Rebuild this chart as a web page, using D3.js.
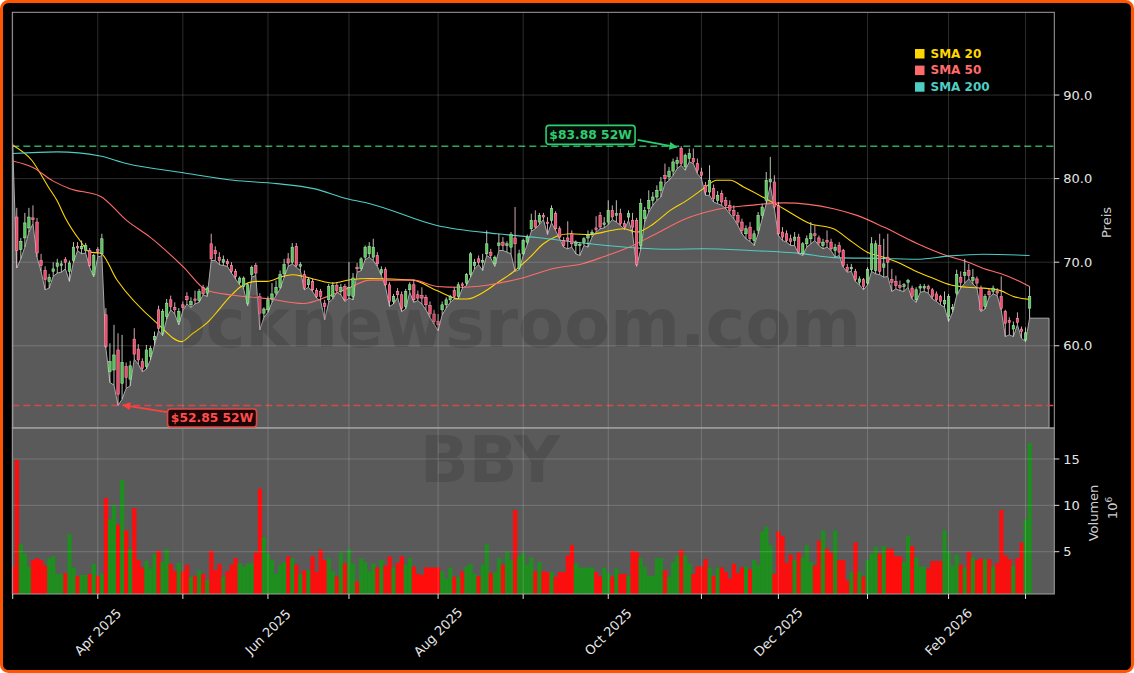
<!DOCTYPE html>
<html><head><meta charset="utf-8">
<script src="https://cdn.jsdelivr.net/npm/d3@7/dist/d3.min.js"></script>
<style>html,body{margin:0;padding:0;background:#fff;}svg{display:block;font-family:"DejaVu Sans",sans-serif;}</style>
</head><body>
<svg id="chart" width="1134" height="673"></svg>
<script>
// ---------------- DATA ----------------
const ticker = "BBY";
const watermarkText = "stocknewsroom.com";
const tickIndex = [0, 21, 42, 63, 83, 105, 126, 147, 170, 189, 211, 231, 250];
const tickLabels = ["", "Apr 2025", "", "Jun 2025", "", "Aug 2025", "", "Oct 2025", "", "Dec 2025", "", "Feb 2026", ""];
const priceTicks = [60, 70, 80, 90];
const volumeTicks = [5, 10, 15];

const open = [84.0,75.4,71.5,72.9,74.1,75.3,74.8,70.2,69.0,67.7,68.9,69.5,69.6,70.3,68.9,70.2,71.9,71.6,71.4,71.4,68.5,71.5,71.0,63.7,56.9,57.1,59.5,55.5,57.5,56.0,
60.8,59.6,58.1,57.5,58.7,60.7,64.3,61.5,63.5,65.5,64.6,62.9,64.9,65.9,64.9,65.6,65.4,67.0,66.3,72.2,71.4,70.6,70.0,70.1,69.6,68.9,67.6,67.1,65.1,68.5,
69.6,65.9,63.9,64.3,65.6,66.3,67.0,68.6,70.4,70.0,71.9,69.5,68.5,67.3,67.7,66.6,66.5,65.1,65.5,65.9,67.2,66.5,67.1,66.0,65.9,69.4,69.2,70.6,71.0,70.6,
70.8,68.7,69.1,67.3,65.3,66.5,66.1,64.7,66.7,67.3,66.1,66.0,65.8,64.8,63.8,62.9,64.3,64.9,65.5,66.6,65.9,67.4,67.5,68.5,69.6,70.4,70.0,71.0,71.2,69.8,
72.0,72.4,72.0,71.8,72.9,69.3,71.0,72.4,74.0,75.0,74.8,75.6,74.8,75.0,75.8,74.0,72.6,72.9,73.4,72.0,72.0,72.4,72.9,73.4,74.1,75.6,74.5,74.8,76.2,75.6,
75.8,74.6,75.4,75.0,75.0,72.0,75.2,76.4,77.4,77.8,78.6,80.4,80.2,80.9,81.8,83.6,81.4,82.4,82.4,81.8,80.8,79.2,78.4,78.8,77.4,78.2,77.4,76.8,76.2,75.6,
74.8,73.4,74.2,72.6,73.8,75.6,77.4,79.6,79.6,76.8,73.6,73.4,72.8,72.6,73.0,71.0,72.2,72.8,73.4,72.9,72.0,72.6,72.4,71.4,72.0,71.4,69.4,69.2,68.9,67.6,
67.9,67.5,69.1,69.0,72.0,69.4,70.6,67.9,67.7,67.2,67.1,67.6,66.9,65.5,66.9,66.9,67.1,66.7,66.2,65.9,65.0,63.5,64.4,66.3,68.2,68.4,69.0,67.8,68.0,66.9,
64.7,66.5,66.5,66.5,65.9,64.1,63.0,62.0,63.3,62.0,60.7,64.5];
const high = [84.2,76.5,72.9,75.9,76.5,76.8,75.3,71.0,69.5,68.6,70.0,70.4,70.2,70.6,70.2,72.4,72.4,72.6,72.3,71.7,71.0,71.8,73.4,64.5,60.3,62.5,61.5,61.3,58.0,58.2,
62.1,60.2,58.5,60.1,60.0,61.7,64.8,64.4,65.6,66.0,65.2,64.5,65.3,66.4,65.8,66.6,66.8,67.3,67.1,73.4,71.9,71.2,70.8,70.4,70.0,69.2,68.3,68.3,67.5,69.6,
69.9,66.3,64.6,65.9,67.5,67.8,69.0,70.4,71.1,72.3,72.3,70.0,69.0,68.2,68.0,66.9,66.8,65.5,67.4,67.6,67.6,67.4,67.4,70.0,68.7,69.9,70.6,72.0,72.4,72.8,
71.2,69.5,69.4,67.6,66.2,66.9,66.5,66.8,67.6,67.9,66.6,67.0,66.1,65.3,64.3,63.8,65.3,65.8,66.1,67.0,67.6,67.6,68.7,71.2,70.4,70.8,71.0,73.8,71.6,70.8,
73.4,73.0,72.5,73.6,76.6,71.5,72.8,73.3,75.8,76.2,75.9,75.9,75.4,76.8,76.1,74.3,73.0,74.9,73.8,72.6,72.4,73.0,73.8,73.9,75.5,76.0,75.4,77.4,76.8,77.4,
76.4,75.0,76.2,75.9,75.3,77.6,76.6,78.6,78.4,79.2,80.2,81.8,81.4,82.4,82.6,83.88,83.0,83.6,83.6,82.4,81.3,79.6,81.6,79.3,78.5,78.6,77.8,77.4,76.8,76.0,
75.2,74.4,74.8,73.8,76.0,77.0,80.8,82.6,80.4,77.2,74.2,73.8,73.3,73.6,73.4,72.4,73.2,74.8,74.4,73.2,72.8,73.8,72.8,72.2,72.4,71.6,69.8,69.8,69.2,68.3,
68.1,69.4,73.0,72.6,73.4,72.8,73.4,69.2,68.4,67.8,67.5,68.0,67.2,67.0,67.4,67.4,67.3,66.9,66.5,66.1,66.5,66.2,65.0,69.1,68.9,70.4,69.8,69.2,68.3,67.2,
66.2,66.8,67.2,66.9,68.3,64.3,63.4,62.9,64.0,62.3,62.2,67.1];
const low = [83.9,69.3,70.4,71.8,73.6,74.6,70.6,68.9,66.7,66.9,68.3,68.7,68.8,69.2,67.7,70.0,71.4,71.0,71.1,69.4,68.25,70.6,70.8,59.7,55.6,55.3,52.85,53.6,54.9,55.2,
58.4,57.8,56.9,57.2,58.3,60.1,61.8,61.2,63.2,64.3,63.8,62.5,64.2,65.0,64.6,65.0,65.2,66.1,65.9,70.2,70.2,69.7,69.6,69.5,68.7,68.0,67.3,66.8,64.8,68.2,
68.4,61.9,63.4,64.0,65.2,66.0,66.8,68.2,69.5,69.8,69.4,69.0,66.7,67.0,66.5,65.7,65.4,63.1,65.2,65.6,66.4,66.1,65.3,65.7,65.5,68.8,69.0,70.3,70.6,70.2,
69.5,68.4,67.1,64.7,65.0,65.8,64.1,64.4,66.4,65.2,65.4,65.0,64.3,63.4,62.6,61.8,63.7,64.5,65.2,65.6,65.6,66.9,67.2,68.2,69.2,69.7,69.0,70.8,70.5,69.5,
71.4,71.4,71.2,71.0,68.9,69.1,70.8,72.1,73.7,74.0,74.5,75.1,73.3,74.7,73.8,72.8,71.8,71.6,71.8,71.0,70.8,72.0,71.8,73.0,73.6,74.0,74.1,74.5,75.1,74.8,
74.4,73.9,75.0,73.4,69.5,71.5,74.8,76.0,76.8,77.4,77.8,79.4,79.8,80.4,81.2,81.6,81.0,82.0,81.8,80.6,80.0,78.0,78.0,77.2,77.0,76.8,76.4,75.8,75.2,74.4,
73.4,72.8,72.5,72.0,73.4,75.2,77.0,79.2,76.4,73.2,72.6,72.4,72.0,72.0,71.0,70.8,71.8,72.2,72.6,72.0,71.6,71.8,71.4,70.6,70.8,69.4,68.8,68.9,67.7,67.3,
66.7,67.3,68.9,68.6,68.5,68.2,68.3,66.5,66.8,66.6,66.5,67.0,65.6,65.2,66.4,66.5,66.3,65.6,65.3,64.9,64.6,62.9,64.0,66.0,66.9,67.5,68.0,67.4,66.9,64.1,
64.4,65.8,66.2,66.0,64.3,61.1,61.3,61.1,62.5,60.9,60.5,63.3];
const close = [83.95,71.4,72.5,74.7,75.4,75.1,71.1,69.6,67.9,68.2,69.2,69.9,69.8,70.0,69.9,71.8,71.7,71.9,72.0,69.6,70.8,71.3,72.8,59.9,58.1,58.9,54.2,58.0,56.2,57.6,
59.0,58.3,57.3,59.5,59.7,61.1,62.1,64.1,65.1,64.7,64.3,64.1,64.6,65.5,65.3,65.4,66.5,66.2,66.9,70.4,71.0,70.2,70.3,69.8,68.9,68.3,68.1,68.1,67.3,69.4,
68.7,63.9,64.4,65.5,66.2,67.0,68.5,69.7,69.9,71.8,69.6,69.7,66.9,67.9,66.7,65.9,65.9,64.7,67.1,67.2,66.6,67.0,65.5,67.0,68.1,69.2,70.4,71.8,71.9,71.8,
69.8,69.1,67.3,65.3,65.9,66.1,64.5,66.5,67.3,65.5,65.7,65.7,64.9,63.8,62.9,62.5,64.9,65.5,65.9,65.9,67.3,67.2,68.5,71.0,70.0,70.0,70.2,72.2,70.8,70.6,
72.3,72.0,72.2,73.3,72.2,71.0,72.6,73.0,75.0,74.2,75.6,75.4,74.6,76.4,74.0,73.0,72.0,72.6,72.2,72.4,72.1,72.8,73.2,73.6,73.9,74.2,74.7,76.2,75.4,75.8,
74.6,74.2,75.8,74.2,69.7,77.0,76.2,77.4,77.8,78.6,79.6,80.0,80.9,82.0,82.2,81.8,82.8,83.0,82.0,81.0,80.4,78.4,79.8,77.6,78.0,77.2,76.8,76.2,75.6,74.8,
73.8,74.0,72.8,73.4,75.6,76.6,79.8,79.9,76.6,73.4,73.0,72.6,72.5,73.0,71.2,72.2,72.8,73.4,73.2,72.3,72.4,72.4,71.6,71.8,71.2,69.6,69.0,69.4,67.9,68.0,
67.1,69.1,72.2,72.2,68.9,69.8,70.0,67.6,67.2,67.0,67.3,67.8,65.9,66.7,67.1,67.1,66.8,65.9,65.5,65.3,65.4,65.9,64.6,68.5,67.6,68.8,68.4,68.2,67.5,64.3,
65.9,66.1,66.9,66.3,64.5,62.7,62.8,62.4,62.8,61.7,61.55,65.9];
const volume = [3.4,14.9,5.8,4.8,3.4,4.1,4.3,4.1,3.5,4.3,4.5,2.6,2.6,2.7,6.9,3.3,2.4,2.5,2.5,2.6,3.7,2.4,2.6,10.8,8.5,10.0,7.9,12.7,7.3,5.3,
9.7,4.1,3.3,4.0,3.2,4.75,5.1,3.9,5.3,3.7,2.9,3.8,2.9,3.6,2.3,2.4,3.0,2.6,1.95,5.1,3.0,3.7,2.3,2.9,3.6,4.3,3.75,3.4,3.75,3.75,
4.9,11.8,6.6,4.8,4.1,2.6,3.6,3.9,4.5,4.3,3.6,2.6,3.0,3.0,4.5,2.8,5.2,4.1,4.3,2.9,2.3,4.9,3.75,5.3,3.75,1.8,4.3,3.9,2.9,3.75,
3.3,4.1,3.5,4.5,3.3,3.8,4.5,3.6,4.3,3.4,2.6,2.5,3.3,3.3,3.3,3.3,2.9,2.1,3.3,2.3,2.3,2.9,3.4,3.7,2.6,2.4,3.6,5.8,2.7,2.8,
4.3,3.6,5.0,4.1,9.5,4.5,4.9,3.6,4.4,2.9,3.9,2.9,2.8,2.8,2.3,2.8,2.8,4.6,5.7,3.75,3.3,3.3,3.3,3.3,2.8,2.3,3.3,2.7,2.3,3.2,
2.6,2.6,2.4,5.1,5.0,4.3,3.4,2.4,2.4,4.3,4.3,3.0,2.3,3.9,4.6,5.2,4.6,3.75,2.6,3.4,3.4,4.2,3.3,2.4,3.3,3.3,2.8,2.1,3.7,2.7,
3.3,3.4,3.1,4.1,3.6,7.2,7.7,5.7,2.6,7.2,6.7,3.8,4.7,4.1,4.9,4.4,5.7,3.9,3.5,6.2,7.3,5.3,4.9,7.3,4.1,4.1,1.9,2.8,6.0,2.9,
2.3,4.1,4.8,5.5,4.8,5.6,5.3,5.3,4.5,4.5,3.9,6.7,5.6,4.4,3.4,3.4,3.2,4.0,4.0,4.0,7.3,5.0,3.5,4.7,3.6,3.3,5.0,4.4,4.1,4.3,
4.2,4.2,3.4,3.8,9.5,4.6,4.2,3.5,4.3,6.0,8.5,16.7];

// moving averages: [trading-day index, value]
const sma20Index = [0,4.7,8.8,10.9,13,16.6,19,21.6,25.7,35.6,41.7,44.5,47.9,53.7,56.1,60.2,62.7,66.7,69.2,71.7,75,79.1,83.3,88.2,98.8,104.7,110.4,112.1,117,119.5,123.6,127.7,131,134.3,137.6,142.5,145.8,150.8,154.1,158.2,162.3,166.4,170.5,173.8,177.1,180.4,182,190.3,196.9,202.6,206.7,210.9,215,219.1,223.2,227.3,231.4,235.5,239.6,243.8,247,251];
const sma20Value = [84.0,82.2,79.0,77.4,75.3,72.6,71.2,71.1,67.9,62.7,60.5,61.5,62.7,65.9,67.0,67.7,67.7,68.3,68.5,68.3,67.9,67.5,67.9,68.05,67.85,66.6,65.6,65.6,66.65,67.5,68.85,70.6,72.2,73.1,73.4,73.3,73.6,74.0,73.6,74.6,76.2,77.4,78.8,79.8,79.8,79.0,78.6,76.4,74.6,74.0,72.6,71.2,70.6,69.85,68.85,68.05,67.3,67.0,66.9,66.6,65.9,65.55];
const sma50Index = [0,5.1,10,14.1,21.6,28.1,33.9,42.1,47.9,54.5,62.7,71.8,77.5,83.3,88.2,98.9,104.7,110.4,117,125.3,133.5,140.9,145.8,152.4,158.2,166.4,174.6,182,190.3,202.6,208.4,215,223.2,231.4,235.5,239.6,243.8,247.9,251];
const sma50Value = [82.1,81.3,79.7,78.8,77.9,75.0,73.0,69.45,66.65,66.05,65.65,65.05,65.85,67.0,67.85,67.85,67.1,67.0,67.25,68.05,69.25,69.85,70.65,71.85,73.25,75.25,76.4,76.8,77.1,76.4,75.6,74.2,72.25,70.65,70.05,69.25,68.65,67.85,67.1];
const sma200Index = [0,10.9,21.6,28.1,42.1,54.5,65.2,74.3,82.5,88.2,104.7,119.5,129.4,141.7,154.1,162.3,170.5,182,194.4,202.6,215,223.2,231.4,239.6,251];
const sma200Value = [83.0,83.2,82.7,81.8,80.7,79.8,79.4,78.8,77.6,77.0,74.4,73.4,72.95,72.25,71.7,71.55,71.6,71.4,71.05,70.55,70.45,70.35,70.75,70.95,70.8];

const smaNames = ["SMA 20", "SMA 50", "SMA 200"];
const high52 = 83.88, high52Index = 165, high52Label = "$83.88 52W";
const low52 = 52.85, low52Index = 26, low52Label = "$52.85 52W";

// ---------------- LAYOUT ----------------
const W = 1134, H = 673;
const L = 12.3, R = 1054.3, PT = 12.3, PB = 428, VB = 594;
const smaColors = ["#ffd700", "#ff6b6b", "#4ecdc4"];
const upBody = "#5cc45c", upEdge = "#b8f0b8", upWick = "#c9d9c9";
const dnBody = "#ee4a6e", dnEdge = "#ffa8b8", dnWick = "#e8b8c6";
const volUp = "#1e8e1e", volDn = "#ff0d0d";
const fillGray = "#5a5a5a";
const textCol = "#e6e6e6";

const svg = d3.select("#chart");
const x = d3.scaleLinear().domain([-0.1, 257.1]).range([L, R]);
const y = d3.scaleLinear().domain([50.16, 99.9]).range([PB, PT]);
const yv = d3.scaleLinear().domain([0.44, 18.34]).range([VB, PB]);
const step = x(1) - x(0);
const n = close.length;
const idx = d3.range(n);

// frame
svg.append("rect").attr("x", 1.5).attr("y", 1.5).attr("width", W - 3).attr("height", H - 3)
  .attr("rx", 7).attr("fill", "#000").attr("stroke", "#ff5500").attr("stroke-width", 3);

const defs = svg.append("defs");
defs.append("clipPath").attr("id", "cp").append("rect").attr("x", L).attr("y", PT).attr("width", R - L).attr("height", PB - PT);
defs.append("clipPath").attr("id", "cv").append("rect").attr("x", L).attr("y", PB).attr("width", R - L).attr("height", VB - PB);
defs.append("clipPath").attr("id", "cw").append("rect").attr("x", 183).attr("y", PT).attr("width", R - 183).attr("height", PB - PT);
[["ah-g", "#2ecc71"], ["ah-r", "#ff4040"]].forEach(([id, c]) => {
  defs.append("marker").attr("id", id).attr("viewBox", "0 0 10 10").attr("refX", 9).attr("refY", 5)
    .attr("markerWidth", 9).attr("markerHeight", 8).attr("markerUnits", "userSpaceOnUse").attr("orient", "auto")
    .append("path").attr("d", "M0,0 L10,5 L0,10 z").attr("fill", c);
});

// volume panel background
svg.append("rect").attr("x", L).attr("y", PB).attr("width", R - L).attr("height", VB - PB).attr("fill", fillGray);

const gP = svg.append("g").attr("clip-path", "url(#cp)");
const gV = svg.append("g").attr("clip-path", "url(#cv)");

// price fill (lows), extended flat to the right
const fillEnd = 255.8;
const fillPts = idx.map(i => [x(i), y(low[i])]).concat([[x(fillEnd), y(low[n - 1])]]);
const poly = [[x(0), PB]].concat(fillPts).concat([[x(fillEnd), PB]]);
gP.append("path").attr("d", "M" + poly.map(p => p.join(",")).join("L") + "Z")
  .attr("fill", fillGray).attr("stroke", "#a8a8a8").attr("stroke-width", 1);

// watermarks
svg.append("g").attr("clip-path", "url(#cw)").append("text").attr("x", 861).attr("y", 347).attr("text-anchor", "end")
  .attr("font-size", 67).attr("font-weight", "bold").attr("fill", "#000").attr("fill-opacity", 0.13).text(watermarkText);
gV.append("text").attr("x", 420).attr("y", 482)
  .attr("font-size", 64).attr("font-weight", "bold").attr("fill", "#000").attr("fill-opacity", 0.12).text(ticker);

// grid
const grid = svg.append("g").attr("stroke", "#fff").attr("stroke-opacity", 0.22).attr("stroke-width", 0.8);
tickIndex.forEach(t => {
  grid.append("line").attr("x1", x(t)).attr("x2", x(t)).attr("y1", PT).attr("y2", VB);
});
priceTicks.forEach(v => grid.append("line").attr("x1", L).attr("x2", R).attr("y1", y(v)).attr("y2", y(v)));
volumeTicks.forEach(v => grid.append("line").attr("x1", L).attr("x2", R).attr("y1", yv(v)).attr("y2", yv(v)));

// 52w lines
gP.append("line").attr("x1", L).attr("x2", R).attr("y1", y(high52)).attr("y2", y(high52))
  .attr("stroke", "#2ea860").attr("stroke-width", 1.6).attr("stroke-dasharray", "7,4");
gP.append("line").attr("x1", L).attr("x2", R).attr("y1", y(low52)).attr("y2", y(low52))
  .attr("stroke", "#d94848").attr("stroke-width", 1.6).attr("stroke-dasharray", "7,4");

// SMA lines
const line = d3.line().x(d => x(d[0])).y(d => y(d[1])).curve(d3.curveMonotoneX);
[[sma20Index, sma20Value], [sma50Index, sma50Value], [sma200Index, sma200Value]].forEach(([ix, vals], k) => {
  gP.append("path").datum(ix.map((t, j) => [t, vals[j]])).attr("d", line)
    .attr("fill", "none").attr("stroke", smaColors[k]).attr("stroke-width", 1.1);
});

// candles
const bw = step * 0.62;
const cg = gP.append("g");
idx.forEach(i => {
  const up = close[i] >= open[i];
  cg.append("line").attr("x1", x(i)).attr("x2", x(i)).attr("y1", y(high[i])).attr("y2", y(low[i]))
    .attr("stroke", up ? upWick : dnWick).attr("stroke-width", 0.9);
  const top = y(Math.max(open[i], close[i])), bot = y(Math.min(open[i], close[i]));
  cg.append("rect").attr("x", x(i) - bw / 2).attr("y", top).attr("width", bw).attr("height", Math.max(1, bot - top))
    .attr("fill", up ? upBody : dnBody).attr("stroke", up ? upEdge : dnEdge).attr("stroke-width", 0.5);
});

// volume bars
idx.forEach(i => {
  const up = close[i] >= open[i];
  gV.append("rect").attr("x", x(i) - step / 2).attr("y", yv(volume[i])).attr("width", step + 0.2)
    .attr("height", VB - yv(volume[i])).attr("fill", up ? volUp : volDn);
});

// spines
const sp = svg.append("g").attr("stroke", "#a0a0a0").attr("stroke-width", 1).attr("fill", "none");
sp.append("rect").attr("x", L).attr("y", PT).attr("width", R - L).attr("height", PB - PT);
sp.append("rect").attr("x", L).attr("y", PB).attr("width", R - L).attr("height", VB - PB);

// right axes
const ax = svg.append("g").attr("fill", textCol).attr("font-size", 13);
priceTicks.forEach(v => {
  ax.append("line").attr("x1", R).attr("x2", R + 5).attr("y1", y(v)).attr("y2", y(v)).attr("stroke", "#ddd");
  ax.append("text").attr("x", R + 9).attr("y", y(v)).attr("dy", "0.36em").text(v.toFixed(1));
});
volumeTicks.forEach(v => {
  ax.append("line").attr("x1", R).attr("x2", R + 5).attr("y1", yv(v)).attr("y2", yv(v)).attr("stroke", "#ddd");
  ax.append("text").attr("x", R + 9).attr("y", yv(v)).attr("dy", "0.36em").text(v);
});
ax.append("text").attr("transform", "translate(1111,222.5) rotate(-90)").attr("text-anchor", "middle")
  .attr("fill", "#cfcfcf").text("Preis");
ax.append("text").attr("transform", "translate(1098,513) rotate(-90)").attr("text-anchor", "middle")
  .attr("fill", "#cfcfcf").text("Volumen");
const off = ax.append("text").attr("transform", "translate(1117,508) rotate(-90)").attr("text-anchor", "middle").attr("fill", "#cfcfcf");
off.append("tspan").text("10");
off.append("tspan").attr("dy", -5).attr("font-size", 9).text("6");

// bottom axis
tickIndex.forEach((t, k) => {
  ax.append("line").attr("x1", x(t)).attr("x2", x(t)).attr("y1", VB).attr("y2", VB + 5).attr("stroke", "#ddd");
  if (tickLabels[k]) {
    ax.append("text").attr("transform", `translate(${x(t)},${632}) rotate(-45)`).attr("text-anchor", "middle")
      .attr("dy", "0.35em").text(tickLabels[k]);
  }
});

// legend
const lg = svg.append("g").attr("font-size", 12).attr("font-weight", "bold");
smaNames.forEach((nm, k) => {
  const cy = 53.5 + k * 16.6;
  lg.append("rect").attr("x", 915).attr("y", cy - 4.5).attr("width", 9.5).attr("height", 9.5).attr("fill", smaColors[k]);
  lg.append("text").attr("x", 930.5).attr("y", cy).attr("dy", "0.36em").attr("fill", smaColors[k]).text(nm);
});

// annotations
const hx = x(high52Index), hy = y(high52);
const hbx = hx - 90.6, hby = hy - 11.3;
svg.append("rect").attr("x", hbx - 44.5).attr("y", hby - 9.5).attr("width", 89).attr("height", 19).attr("rx", 3)
  .attr("fill", "#050a06").attr("stroke", "#2ecc71").attr("stroke-width", 1.6);
svg.append("text").attr("x", hbx).attr("y", hby).attr("dy", "0.36em").attr("text-anchor", "middle")
  .attr("font-size", 12.3).attr("font-weight", "bold").attr("fill", "#2ecc71").text(high52Label);
svg.append("line").attr("x1", hbx + 47).attr("y1", hby + 5).attr("x2", hx - 4.5).attr("y2", hy + 1)
  .attr("stroke", "#2ecc71").attr("stroke-width", 1.8).attr("marker-end", "url(#ah-g)");

const lx = x(low52Index), ly = y(low52);
const lbx = lx + 94, lby = ly + 12.5;
svg.append("rect").attr("x", lbx - 44.5).attr("y", lby - 9).attr("width", 89).attr("height", 18).attr("rx", 3)
  .attr("fill", "#1c0505").attr("stroke", "#e04848").attr("stroke-width", 1.6);
svg.append("text").attr("x", lbx).attr("y", lby).attr("dy", "0.36em").attr("text-anchor", "middle")
  .attr("font-size", 12.3).attr("font-weight", "bold").attr("fill", "#ff4d4d").text(low52Label);
svg.append("line").attr("x1", lbx - 45).attr("y1", lby - 6).attr("x2", lx + 5).attr("y2", ly - 0.5)
  .attr("stroke", "#ff4040").attr("stroke-width", 1.8).attr("marker-end", "url(#ah-r)");
</script>
</body></html>
